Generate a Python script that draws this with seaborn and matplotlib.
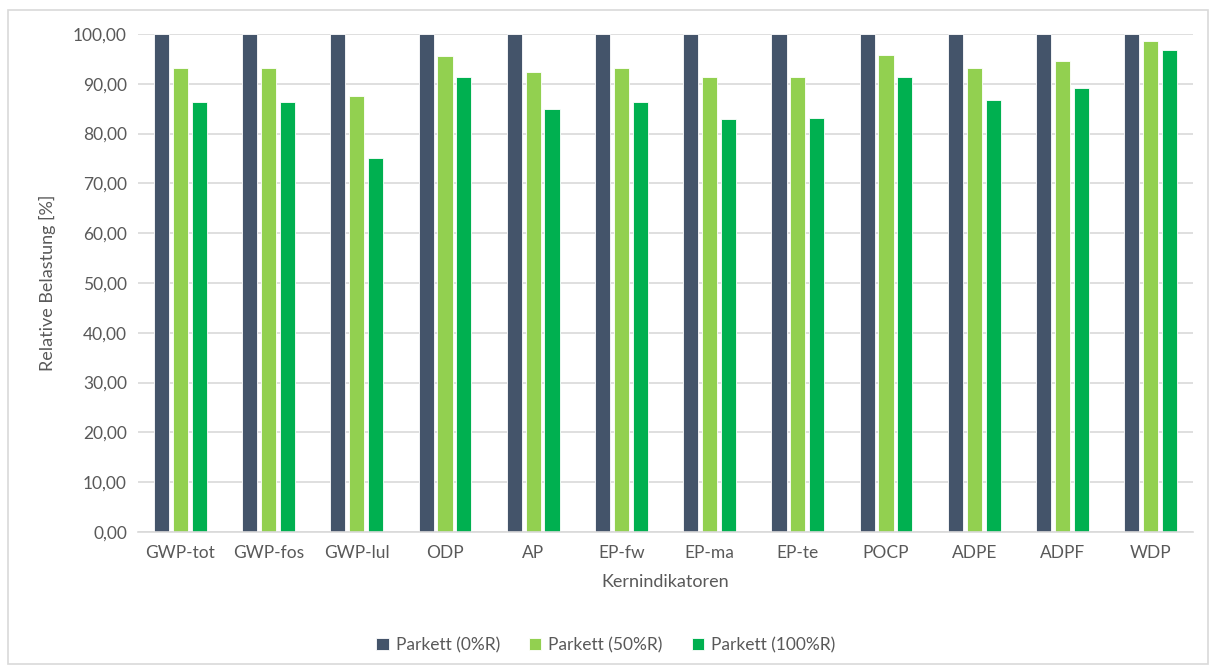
import matplotlib
matplotlib.use("Agg")
import matplotlib.pyplot as plt
from matplotlib.patches import Rectangle
from matplotlib.ticker import FuncFormatter
import seaborn as sns
import pandas as pd

categories = ["GWP-tot", "GWP-fos", "GWP-lul", "ODP", "AP", "EP-fw",
              "EP-ma", "EP-te", "POCP", "ADPE", "ADPF", "WDP"]
series_names = ["Parkett (0%R)", "Parkett (50%R)", "Parkett (100%R)"]
values_0 = [100, 100, 100, 100, 100, 100, 100, 100, 100, 100, 100, 100]
values_50 = [93.1, 93.1, 87.6, 95.6, 92.4, 93.1, 91.4, 91.4, 95.8, 93.2, 94.6, 98.5]
values_100 = [86.3, 86.3, 75.0, 91.3, 84.9, 86.3, 82.9, 83.1, 91.4, 86.7, 89.2, 96.8]
colors = ["#44546A", "#92D050", "#00B050"]

rows = []
for name, vals in zip(series_names, [values_0, values_50, values_100]):
    for cat, v in zip(categories, vals):
        rows.append({"Kernindikator": cat, "Serie": name, "Wert": v})
df = pd.DataFrame(rows)

sns.set_theme(style="white")
plt.rcParams["font.family"] = ["Lato", "DejaVu Sans"]
text_color = "#595959"

fig = plt.figure(figsize=(12.12, 6.68), dpi=100)
ax = fig.add_axes([138 / 1212, 1 - 532 / 668, (1193 - 138) / 1212, (532 - 34) / 668])

sns.barplot(data=df, x="Kernindikator", y="Wert", hue="Serie",
            palette=colors, width=0.64, gap=0.2, ax=ax,
            edgecolor="white", linewidth=0.6, saturation=1, legend=True)

ax.set_ylim(0, 100)
ax.set_xlim(-0.48, len(categories) - 0.52)
ax.set_yticks(range(0, 101, 10))
ax.yaxis.set_major_formatter(FuncFormatter(lambda v, p: f"{v:.2f}".replace(".", ",")))
ax.yaxis.grid(True, color="#D9D9D9", linewidth=1.2)
ax.set_axisbelow(True)
for side in ["top", "right", "left"]:
    ax.spines[side].set_visible(False)
ax.spines["bottom"].set_color("#D9D9D9")
ax.spines["bottom"].set_linewidth(1.2)
ax.tick_params(axis="both", length=0, labelsize=12.5, colors=text_color, pad=8)
ax.tick_params(axis="x", pad=9)

ax.set_xlabel("Kernindikatoren", fontsize=13, color=text_color, labelpad=10)
ax.set_ylabel("Relative Belastung [%]", fontsize=13, color=text_color, labelpad=12)

handles, labels = ax.get_legend_handles_labels()
ax.legend_.remove()
fig.legend(handles, labels, loc="center", bbox_to_anchor=(0.5, 1 - 645 / 668),
           ncol=3, frameon=False, fontsize=12.5, labelcolor=text_color,
           handlelength=0.7, handleheight=0.7, handletextpad=0.4, columnspacing=1.7)

fig.patches.append(Rectangle((8 / 1212, 4 / 668), 1200 / 1212, 654 / 668,
                             transform=fig.transFigure, fill=False,
                             edgecolor="#D9D9D9", linewidth=1.2))

fig.savefig("out.png", dpi=100, facecolor="white")
